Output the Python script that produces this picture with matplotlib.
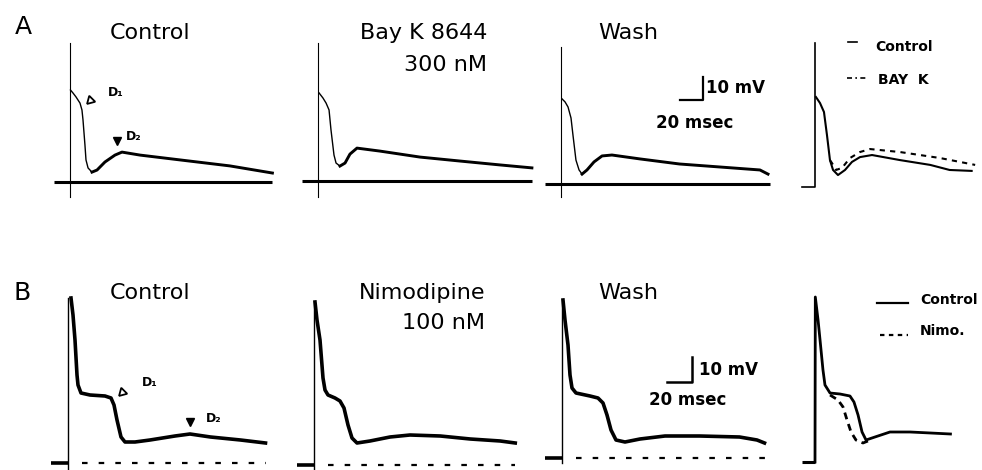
from matplotlib import pyplot as plt
from matplotlib.lines import Line2D

W, H = 982, 470

# ---------------- data (time in ms, voltage in mV above baseline) ----------------
# A: Bay K 8644
a_ctrl_t = [0.4, 2.6, 5.2, 8.7, 10.4, 11.3, 13.0, 13.9, 15.7, 19.1, 23.5, 30.4, 39.1, 45.2, 60.9, 95.7, 139, 176]
a_ctrl_v = [40.0, 38.7, 37.0, 34.3, 31.3, 27.0, 16.1, 9.6, 6.1, 4.3, 5.2, 8.7, 11.7, 13.0, 11.7, 9.6, 7.0, 3.9]

a_bayk_t = [0.9, 4.3, 7.0, 9.6, 11.3, 13.9, 15.7, 19.1, 23.5, 27.8, 33.9, 53.9, 88.7, 123, 158, 186]
a_bayk_v = [38.3, 36.1, 33.9, 30.9, 22.2, 11.3, 7.8, 6.5, 7.8, 11.7, 14.3, 13.0, 10.4, 8.7, 7.0, 5.7]

a_wash_t = [0.9, 3.5, 6.1, 8.7, 10.4, 13.0, 15.7, 18.3, 22.6, 28.7, 35.7, 44.3, 68.7, 103, 138, 173, 180]
a_wash_v = [37.0, 35.7, 33.5, 28.7, 21.3, 10.4, 6.1, 4.3, 6.1, 9.6, 12.2, 12.6, 10.9, 8.7, 7.4, 6.1, 4.3]

a_ov_ctrl_t = [1.1, 5.7, 10.2, 13.6, 17.0, 20.5, 26.1, 34.1, 42.0, 51.1, 64.8, 96.6, 131, 153, 178]
a_ov_ctrl_v = [39.1, 36.5, 32.6, 22.6, 11.7, 7.4, 5.2, 7.4, 10.9, 13.0, 13.9, 11.7, 9.6, 7.4, 7.0]
a_ov_bayk_t = [17.0, 19.3, 23.9, 30.7, 39.8, 51.1, 62.5, 96.6, 142, 182]
a_ov_bayk_v = [11.7, 10.4, 7.4, 8.3, 12.6, 15.2, 16.5, 15.2, 12.6, 9.6]

# B: nimodipine
b_ctrl_t = [0, 2.4, 4.0, 5.6, 7.2, 8.0, 10.4, 17.6, 29.6, 34.4, 36.8, 39.2, 42.4, 45.6, 53.6, 65.6, 85.6, 97.6, 114, 138, 158]
b_ctrl_v = [0, 66.0, 59.2, 49.2, 35.2, 31.2, 28.0, 27.2, 26.8, 26.0, 23.2, 17.2, 10.4, 8.4, 8.4, 9.2, 10.8, 11.6, 10.4, 9.2, 8.0]

b_nimo_t = [0, 0.8, 2.4, 4.8, 7.2, 8.8, 11.2, 16.8, 20.8, 24.0, 27.2, 30.4, 34.4, 44.8, 60.8, 76.8, 101, 125, 149, 161]
b_nimo_v = [0, 65.2, 58.0, 50.0, 34.8, 30.0, 28.0, 26.8, 25.6, 22.8, 16.0, 10.8, 8.8, 9.6, 11.2, 12.0, 11.6, 10.4, 9.6, 8.8]

b_wash_t = [0, 0.8, 2.4, 4.8, 6.4, 8.0, 11.2, 22.4, 28.8, 32.8, 36.0, 39.2, 43.2, 50.4, 62.4, 82.4, 110, 142, 156, 162]
b_wash_v = [0, 63.2, 55.2, 45.2, 33.2, 28.0, 26.0, 24.8, 24.0, 22.0, 17.2, 11.2, 7.2, 6.4, 7.6, 8.8, 8.8, 8.4, 7.2, 6.0]

b_ov_ctrl_t = [0, 0.3, 2.9, 4.8, 7.6, 9.5, 14.3, 23.8, 33.3, 37.1, 41.0, 44.8, 48.6, 57.1, 71.4, 90.5, 110, 129]
b_ov_ctrl_v = [0, 66.0, 56.8, 48.8, 36.8, 30.8, 27.6, 27.2, 26.4, 24.0, 18.8, 12.0, 8.8, 10.0, 12.0, 12.0, 11.6, 11.2]
b_ov_nimo_t = [14.3, 21.9, 26.7, 30.5, 34.3, 39.0, 45.7, 50.5]
b_ov_nimo_v = [26.8, 24.8, 22.0, 16.8, 12.0, 8.8, 7.6, 8.4]

SCALE_MS, SCALE_MV = 20, 10

fig = plt.figure(figsize=(W / 100, H / 100), dpi=100)


def panel(x0, y0, sx, sy, t0=-20, t1=195, v0=-12, v1=72):
    # x0, y0: pixel position of (t=0, V=0); sx, sy: pixels per ms / per mV
    ax = fig.add_axes([(x0 + t0 * sx) / W, (H - y0 + v0 * sy) / H,
                       (t1 - t0) * sx / W, (v1 - v0) * sy / H])
    ax.set_xlim(t0, t1)
    ax.set_ylim(v0, v1)
    ax.set_axis_off()
    return ax


def ftext(x, y, s, **kw):
    kw.setdefault('va', 'center')
    fig.text(x / W, 1 - y / H, s, **kw)


def a_trace(ax, t, v, split, base_end, art=(-6.5, 60)):
    ax.plot([0, 0], art, color='k', lw=0.8)
    ax.plot([-14, base_end], [0, 0], color='k', lw=2.2, solid_capstyle='butt')
    ax.plot(t[:split + 1], v[:split + 1], color='k', lw=1.0)
    ax.plot(t[split:], v[split:], color='k', lw=2.1, solid_joinstyle='round')


def b_trace(ax, t, v, base_end, low=-2):
    ax.plot([0, 0], [low, v[1]], color='k', lw=1.0)
    ax.plot([-14, 0], [0, 0], color='k', lw=2.6, solid_capstyle='butt')
    ax.plot([11, base_end], [0, 0], color='k', lw=1.6, dashes=(2.5, 5))
    ax.plot(t[1:], v[1:], color='k', lw=2.6, solid_joinstyle='round')


# ---------------- row A ----------------
ax = panel(70, 182, 1.15, 2.3)
a_trace(ax, a_ctrl_t, a_ctrl_v, 9, 176, art=(-6.5, 60.4))
ax.plot(17.4, 35.7, marker=(3, 0, 135), ms=7, mfc='white', mec='k', mew=1.3)
ax.text(33, 39, 'D₁', fontsize=9, fontweight='bold', va='center')
ax.plot(40.9, 17.8, marker='v', ms=6, color='k')
ax.text(49, 19.6, 'D₂', fontsize=9, fontweight='bold', va='center')

ax = panel(318, 181, 1.15, 2.3)
a_trace(ax, a_bayk_t, a_bayk_v, 7, 186, art=(-7, 60))

ax = panel(561, 184, 1.15, 2.3)
a_trace(ax, a_wash_t, a_wash_v, 7, 182, art=(-5.7, 59.6))
bx, by = 103.5, 36.5
ax.plot([bx, bx + SCALE_MS, bx + SCALE_MS], [by, by, by + SCALE_MV], color='k', lw=1.6)

ax = panel(815, 187, 0.88, 2.3)
ax.plot([-14.8, 0, 0], [0, 0, 62.6], color='k', lw=1.2)
ax.plot(a_ov_ctrl_t, a_ov_ctrl_v, color='k', lw=1.5)
ax.plot(a_ov_bayk_t, a_ov_bayk_v, color='k', lw=1.5, dashes=(2.5, 2.5))

ftext(23, 27, 'A', fontsize=18, ha='center')
ftext(150, 33, 'Control', fontsize=16, ha='center')
ftext(487, 33, 'Bay K 8644', fontsize=16, ha='right')
ftext(487, 65, '300 nM', fontsize=16, ha='right')
ftext(628, 33, 'Wash', fontsize=16, ha='center')
ftext(706, 88, '10 mV', fontsize=12, fontweight='bold', ha='left')
ftext(695, 123, '20 msec', fontsize=12, fontweight='bold', ha='center')

fig.add_artist(Line2D([848 / W, 857 / W], [1 - 42 / H] * 2, color='k', lw=1.2))
ftext(875, 47, 'Control', fontsize=10, fontweight='bold', ha='left')
fig.add_artist(Line2D([847 / W, 866 / W], [1 - 78 / H] * 2, color='k', lw=1.2, dashes=(3, 2, 1, 2)))
ftext(878, 80, 'BAY  K', fontsize=10, fontweight='bold', ha='left')

# ---------------- row B ----------------
ax = panel(68, 463, 1.25, 2.5)
b_trace(ax, b_ctrl_t, b_ctrl_v, 158, low=-3)
ax.plot(43.2, 28.4, marker=(3, 0, 135), ms=7, mfc='white', mec='k', mew=1.3)
ax.text(59, 32.4, 'D₁', fontsize=9, fontweight='bold', va='center')
ax.plot(97.6, 16.4, marker='v', ms=6, color='k')
ax.text(110, 18, 'D₂', fontsize=9, fontweight='bold', va='center')

ax = panel(314, 465, 1.25, 2.5)
b_trace(ax, b_nimo_t, b_nimo_v, 161)

ax = panel(562, 458, 1.25, 2.5)
b_trace(ax, b_wash_t, b_wash_v, 162)
bx, by = 84, 30.4
ax.plot([bx, bx + SCALE_MS, bx + SCALE_MS], [by, by, by + SCALE_MV], color='k', lw=1.8)

ax = panel(815, 462, 1.05, 2.5)
ax.plot([-12.4, 0], [0, 0], color='k', lw=2.2, solid_capstyle='butt')
ax.plot(b_ov_ctrl_t, b_ov_ctrl_v, color='k', lw=2.0)
ax.plot(b_ov_nimo_t, b_ov_nimo_v, color='k', lw=2.0, dashes=(2.5, 1.8))

ftext(22, 293, 'B', fontsize=18, ha='center')
ftext(150, 293, 'Control', fontsize=16, ha='center')
ftext(485, 293, 'Nimodipine', fontsize=16, ha='right')
ftext(485, 323, '100 nM', fontsize=16, ha='right')
ftext(628, 293, 'Wash', fontsize=16, ha='center')
ftext(699, 370, '10 mV', fontsize=12, fontweight='bold', ha='left')
ftext(688, 400, '20 msec', fontsize=12, fontweight='bold', ha='center')

fig.add_artist(Line2D([877 / W, 908 / W], [1 - 303 / H] * 2, color='k', lw=1.6))
ftext(920, 300, 'Control', fontsize=10, fontweight='bold', ha='left')
fig.add_artist(Line2D([880 / W, 908 / W], [1 - 335 / H] * 2, color='k', lw=1.6, dashes=(2, 2)))
ftext(920, 331, 'Nimo.', fontsize=10, fontweight='bold', ha='left')

fig.savefig('out.png', dpi=100, facecolor='white')
